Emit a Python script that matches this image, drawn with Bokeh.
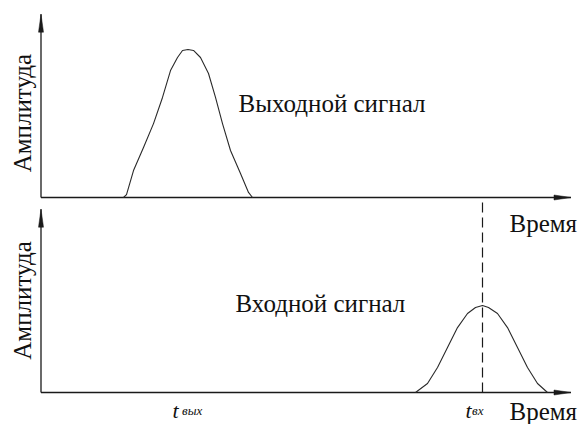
from bokeh.plotting import figure
from bokeh.models import Range1d
from bokeh.core.properties import value
from bokeh.embed import file_html
from bokeh.resources import INLINE
import math

# ---- data (time units, amplitude units) ----
out_time = [16.5, 17.1, 18.5, 20.5, 22.5, 24.3, 25.9, 27.3, 28.3, 29.4, 30.5,
            31.9, 33.5, 34.9, 36.3, 37.9, 39.9, 41.5, 42.3]
out_amp = [0.0, 1.5, 13.8, 25.6, 37.9, 51.3, 65.1, 71.8, 75.4, 75.9, 75.4,
           71.8, 63.6, 51.3, 37.9, 24.1, 12.3, 2.6, 0.0]

in_time = [74.9, 77.3, 79.3, 81.3, 83.3, 85.3, 86.9, 88.3, 89.5, 91.3, 93.3,
           95.3, 97.3, 99.3, 101.3]
in_amp = [0.0, 4.6, 12.8, 23.1, 33.3, 40.5, 43.6, 44.6, 43.6, 40.5, 33.3,
          23.1, 12.8, 4.6, 0.0]

t_in_marker = 88.3          # time of input peak (dashed line)
panel_offset = 100.0        # amplitude offset of the upper (output) panel
axis_t_end = 106.0          # end of time axes (arrow tip)
axis_a_end = 94.0           # height of amplitude axes (arrow tip)

labels_panel = ["Выходной сигнал", "Входной сигнал"]
label_axis_y = "Амплитуда"
label_axis_x = "Время"
label_t = "t"
label_t_subs = ["вых", "вх"]

# ---- figure ----
W, H = 579, 424
px_t = 5.0     # px per time unit
px_a = 1.95    # px per amplitude unit
x0_px = 40.5   # pixel position of time 0
y0_px = 392.0  # pixel position of amplitude 0 (lower panel)

p = figure(width=W, height=H,
           x_range=Range1d(-x0_px / px_t, (W - x0_px) / px_t),
           y_range=Range1d((y0_px - H) / px_a, y0_px / px_a),
           x_axis_type=None, y_axis_type=None,
           min_border=0, toolbar_location=None, output_backend="svg")
p.grid.visible = False
p.outline_line_color = None
p.background_fill_color = "white"

axis_col = "#1a1a1a"
curve_col = "#2a2a2a"
text_col = "#111111"
serif = value("Liberation Serif")

# axes lines
for base in (panel_offset, 0.0):
    p.line([0, axis_t_end], [base, base], line_color=axis_col, line_width=1.3)
    p.line([0, 0], [base, base + axis_a_end], line_color=axis_col, line_width=1.3)

# arrow heads
hl_h, hw_h = 17 / px_t, 2.5 / px_a
hl_v, hw_v = 18 / px_a, 2.5 / px_t
xs, ys = [], []
for base in (panel_offset, 0.0):
    xs.append([axis_t_end, axis_t_end - hl_h, axis_t_end - hl_h])
    ys.append([base, base + hw_h, base - hw_h])
    top = base + axis_a_end
    xs.append([0, -hw_v, hw_v])
    ys.append([top, top - hl_v, top - hl_v])
p.patches(xs, ys, fill_color=axis_col, line_color=axis_col, line_width=0.5)

# curves
p.line(out_time, [a + panel_offset for a in out_amp], line_color=curve_col,
       line_width=1.1, line_join="round")
p.line(in_time, in_amp, line_color=curve_col, line_width=1.1, line_join="round")

# dashed marker at the input peak
p.line([t_in_marker, t_in_marker], [0, panel_offset], line_color=axis_col,
       line_width=1.2, line_dash="10 5")

# texts
fs = "25px"
p.text([39.5, 38.9], [148.2, 45.6], text=labels_panel, text_font=serif,
       text_font_size=fs, text_color=text_col, text_baseline="alphabetic",
       text_align="left")
p.text([93.7, 93.7], [86.7, -9.7], text=[label_axis_x, label_axis_x], text_font=serif,
       text_font_size=fs, text_color=text_col, text_baseline="alphabetic",
       text_align="left")
p.text([-3.7, -3.7], [143.3, 47.2], text=[label_axis_y, label_axis_y], text_font=serif,
       text_font_size=fs, text_color=text_col, text_baseline="middle",
       text_align="center", angle=math.pi / 2)

# time markers t_вых, t_вх
p.text([26.3, 84.9], [-9.2, -9.2], text=[label_t, label_t], text_font=serif,
       text_font_size="22px", text_font_style="italic", text_color=text_col,
       text_baseline="alphabetic", text_align="left")
p.text([28.2, 86.2], [-9.2, -9.2], text=label_t_subs, text_font=serif,
       text_font_size="13px", text_font_style="italic", text_color=text_col,
       text_baseline="alphabetic", text_align="left")

open("out.html", "w").write(file_html(p, INLINE))
